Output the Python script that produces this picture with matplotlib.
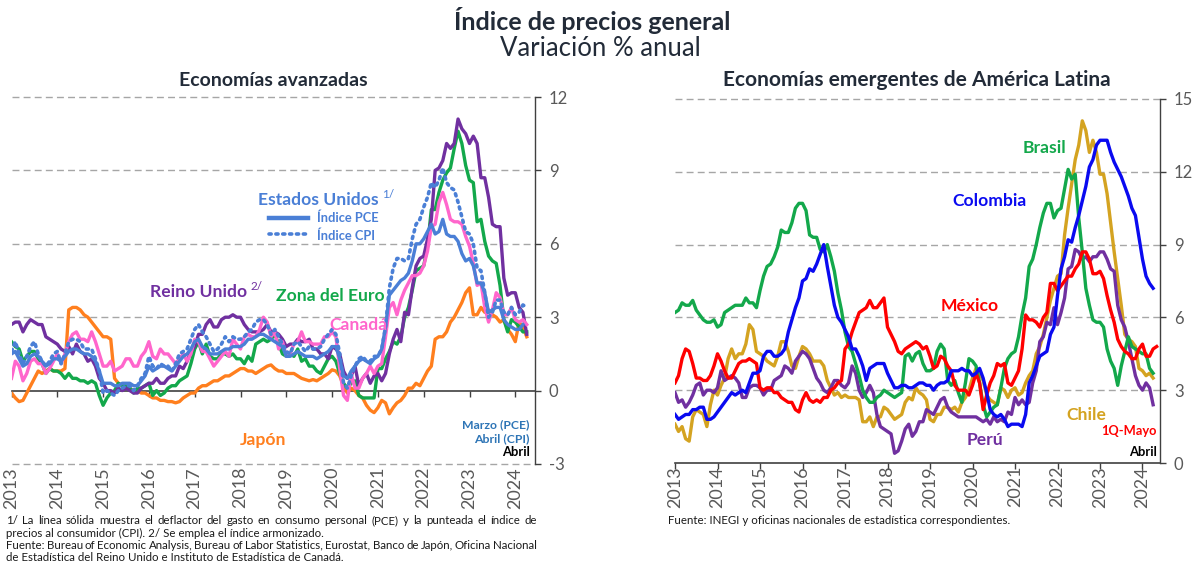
import numpy as np
import matplotlib
matplotlib.use("Agg")
import matplotlib.pyplot as plt
from matplotlib.transforms import blended_transform_factory

plt.rcParams['font.family'] = ['Lato', 'DejaVu Sans']

# ---------------- Data: monthly annual % change, Jan-2013 onward ----------------
years = list(range(2013, 2025))
year_labels = [str(y) for y in years]

# Advanced economies
reino_unido = [2.7, 2.8, 2.8, 2.4, 2.7, 2.9, 2.8, 2.7, 2.7, 2.2, 2.1, 2.0,
               1.9, 1.7, 1.6, 1.8, 1.5, 1.9, 1.6, 1.5, 1.2, 1.3, 1.0, 0.5,
               0.3, 0.0, 0.0, -0.1, 0.1, 0.0, 0.1, 0.0, -0.1, -0.1, 0.1, 0.2,
               0.3, 0.3, 0.5, 0.3, 0.3, 0.5, 0.6, 0.6, 1.0, 0.9, 1.2, 1.6,
               1.8, 2.3, 2.3, 2.7, 2.9, 2.6, 2.6, 2.9, 3.0, 3.0, 3.1, 3.0,
               3.0, 2.7, 2.5, 2.4, 2.4, 2.4, 2.5, 2.7, 2.4, 2.4, 2.3, 2.1,
               1.8, 1.9, 1.9, 2.1, 2.0, 2.0, 2.1, 1.7, 1.7, 1.5, 1.5, 1.3,
               1.8, 1.7, 1.5, 0.8, 0.5, 0.6, 1.0, 0.2, 0.5, 0.7, 0.3, 0.6,
               0.7, 0.4, 0.7, 1.5, 2.1, 2.5, 2.0, 3.2, 3.1, 4.2, 5.1, 5.4,
               5.5, 6.2, 7.0, 9.0, 9.1, 9.4, 10.1, 9.9, 10.1, 11.1, 10.7, 10.5,
               10.1, 10.4, 10.1, 8.7, 8.7, 7.9, 6.8, 6.7, 6.7, 4.6, 3.9, 4.0,
               4.0, 3.4, 3.2, 2.3]

zona_euro = [2.0, 1.8, 1.7, 1.2, 1.4, 1.6, 1.6, 1.3, 1.1, 0.7, 0.9, 0.8,
             0.8, 0.7, 0.5, 0.7, 0.5, 0.5, 0.4, 0.4, 0.3, 0.4, 0.3, -0.2,
             -0.6, -0.3, -0.1, 0.0, 0.3, 0.2, 0.2, 0.1, -0.1, 0.1, 0.1, 0.2,
             0.3, -0.2, 0.0, -0.2, -0.1, 0.1, 0.2, 0.2, 0.4, 0.5, 0.6, 1.1,
             1.7, 2.0, 1.5, 1.9, 1.4, 1.3, 1.3, 1.5, 1.5, 1.4, 1.5, 1.3,
             1.3, 1.1, 1.4, 1.2, 1.9, 2.0, 2.1, 2.0, 2.1, 2.3, 1.9, 1.5,
             1.4, 1.5, 1.4, 1.7, 1.2, 1.3, 1.0, 1.0, 0.8, 0.7, 1.0, 1.3,
             1.4, 1.2, 0.7, 0.3, 0.1, 0.3, 0.4, -0.2, -0.3, -0.3, -0.3, -0.3,
             0.9, 0.9, 1.3, 1.6, 2.0, 1.9, 2.2, 3.0, 3.4, 4.1, 4.9, 5.0,
             5.1, 5.9, 7.4, 7.4, 8.1, 8.6, 8.9, 9.1, 9.9, 10.6, 10.1, 9.2,
             8.6, 8.5, 6.9, 7.0, 6.1, 5.5, 5.3, 5.2, 4.3, 2.9, 2.4, 2.9,
             2.8, 2.6, 2.4, 2.4]

canada = [0.5, 1.2, 1.0, 0.4, 0.7, 1.2, 1.3, 1.1, 1.1, 0.7, 0.9, 1.2,
          1.5, 1.1, 1.5, 2.0, 2.3, 2.4, 2.1, 2.1, 2.0, 2.4, 2.0, 1.5,
          1.0, 1.0, 1.2, 0.8, 0.9, 1.0, 1.3, 1.3, 1.0, 1.0, 1.4, 1.6,
          2.0, 1.4, 1.3, 1.7, 1.5, 1.5, 1.3, 1.1, 1.3, 1.5, 1.2, 1.5,
          2.1, 2.0, 1.6, 1.6, 1.3, 1.0, 1.2, 1.4, 1.6, 1.4, 2.1, 1.9,
          1.7, 2.2, 2.3, 2.2, 2.2, 2.5, 3.0, 2.8, 2.2, 2.4, 1.7, 2.0,
          1.4, 1.5, 1.9, 2.0, 2.4, 2.0, 2.0, 1.9, 1.9, 1.9, 2.2, 2.2,
          2.4, 2.2, 0.9, -0.2, -0.4, 0.7, 0.1, 0.1, 0.5, 0.7, 1.0, 0.7,
          1.0, 1.1, 2.2, 3.4, 3.6, 3.1, 3.7, 4.1, 4.4, 4.7, 4.7, 4.8,
          5.1, 5.7, 6.7, 6.8, 7.7, 8.1, 7.6, 7.0, 6.9, 6.9, 6.8, 6.3,
          5.9, 5.2, 4.3, 4.4, 3.4, 2.8, 3.3, 4.0, 3.8, 3.1, 3.1, 3.4,
          2.9, 2.8, 2.9, 2.7]

eeuu_pce = [1.5, 1.6, 1.3, 1.0, 1.1, 1.4, 1.5, 1.4, 1.2, 1.0, 1.1, 1.3,
            1.3, 1.2, 1.4, 1.6, 1.7, 1.7, 1.6, 1.5, 1.5, 1.4, 1.2, 0.8,
            0.3, 0.3, 0.3, 0.2, 0.2, 0.3, 0.3, 0.3, 0.2, 0.2, 0.4, 0.6,
            1.0, 0.8, 0.9, 1.0, 1.0, 0.9, 0.8, 1.0, 1.2, 1.4, 1.5, 1.7,
            2.0, 2.1, 1.8, 1.7, 1.5, 1.5, 1.5, 1.6, 1.7, 1.7, 1.8, 1.8,
            1.8, 1.9, 2.1, 2.1, 2.2, 2.3, 2.3, 2.2, 2.1, 2.0, 1.9, 1.8,
            1.4, 1.4, 1.5, 1.6, 1.5, 1.4, 1.4, 1.4, 1.3, 1.4, 1.5, 1.6,
            1.8, 1.8, 1.3, 0.6, 0.5, 0.8, 1.0, 1.2, 1.3, 1.2, 1.1, 1.3,
            1.4, 1.7, 2.6, 3.9, 4.1, 4.3, 4.5, 4.6, 4.8, 5.3, 6.0, 6.0,
            6.2, 6.5, 6.8, 6.4, 6.5, 7.0, 6.4, 6.3, 6.3, 6.1, 5.6, 5.3,
            5.4, 5.1, 4.4, 4.4, 4.0, 3.2, 3.3, 3.4, 3.4, 2.9, 2.7, 2.6,
            2.5, 2.5, 2.7]

eeuu_cpi = [1.6, 2.0, 1.5, 1.1, 1.4, 1.8, 2.0, 1.5, 1.2, 1.0, 1.2, 1.5,
            1.6, 1.1, 1.5, 2.0, 2.1, 2.1, 2.0, 1.7, 1.7, 1.7, 1.3, 0.8,
            -0.1, 0.0, -0.1, -0.2, 0.0, 0.1, 0.2, 0.2, 0.0, 0.2, 0.5, 0.7,
            1.4, 1.0, 0.9, 1.1, 1.0, 1.0, 0.8, 1.1, 1.5, 1.6, 1.7, 2.1,
            2.5, 2.7, 2.4, 2.2, 1.9, 1.6, 1.7, 1.9, 2.2, 2.0, 2.2, 2.1,
            2.1, 2.2, 2.4, 2.5, 2.8, 2.9, 2.9, 2.7, 2.3, 2.5, 2.2, 1.9,
            1.6, 1.5, 1.9, 2.0, 1.8, 1.6, 1.8, 1.7, 1.7, 1.8, 2.1, 2.3,
            2.5, 2.3, 1.5, 0.3, 0.1, 0.6, 1.0, 1.3, 1.4, 1.2, 1.2, 1.4,
            1.4, 1.7, 2.6, 4.2, 5.0, 5.4, 5.4, 5.3, 5.4, 6.2, 6.8, 7.0,
            7.5, 7.9, 8.5, 8.3, 8.6, 9.1, 8.5, 8.3, 8.2, 7.7, 7.1, 6.5,
            6.4, 6.0, 5.0, 4.9, 4.0, 3.0, 3.2, 3.7, 3.7, 3.2, 3.1, 3.4,
            3.1, 3.2, 3.5, 3.4]

japon = [-0.1, -0.3, -0.45, -0.4, -0.1, 0.2, 0.5, 0.8, 0.7, 0.8, 0.9, 0.8,
         0.8, 0.8, 0.9, 3.3, 3.4, 3.4, 3.3, 3.1, 3.0, 2.8, 2.6, 2.4,
         2.2, 2.2, 2.1, 0.5, 0.3, 0.2, 0.1, 0.1, 0.0, 0.0, -0.1, -0.1,
         -0.2, -0.3, -0.3, -0.4, -0.4, -0.45, -0.45, -0.5, -0.45, -0.3, -0.2, -0.1,
         -0.1, 0.1, 0.2, 0.2, 0.3, 0.4, 0.4, 0.5, 0.6, 0.6, 0.7, 0.8,
         0.9, 0.9, 0.8, 0.8, 0.7, 0.8, 0.9, 1.0, 1.05, 0.9, 0.8, 0.8,
         0.7, 0.7, 0.7, 0.6, 0.5, 0.45, 0.4, 0.45, 0.4, 0.5, 0.6, 0.7,
         0.85, 0.8, 0.6, 0.2, -0.1, 0.1, 0.0, -0.2, -0.3, -0.6, -0.8, -0.9,
         -0.7, -0.4, -0.5, -0.95, -0.7, -0.5, -0.4, -0.2, 0.1, 0.1, 0.3, 0.2,
         0.5, 0.8, 1.0, 2.1, 2.2, 2.2, 2.4, 2.8, 3.0, 3.3, 3.6, 4.0,
         4.2, 3.1, 3.1, 3.4, 3.2, 3.3, 3.1, 3.0, 2.8, 2.9, 2.5, 2.3,
         2.0, 2.8, 2.6, 2.2]

# Latin American emerging economies
brasil = [6.2, 6.3, 6.6, 6.5, 6.5, 6.7, 6.3, 6.1, 5.9, 5.8, 5.8, 5.9,
          5.6, 5.7, 6.2, 6.3, 6.4, 6.5, 6.5, 6.5, 6.8, 6.6, 6.6, 6.4,
          7.1, 7.7, 8.1, 8.2, 8.5, 8.9, 9.6, 9.5, 9.5, 9.9, 10.5, 10.7,
          10.7, 10.4, 9.4, 9.3, 9.3, 8.8, 8.7, 9.0, 8.5, 7.9, 7.0, 6.3,
          5.4, 4.8, 4.6, 4.1, 3.6, 3.0, 2.7, 2.5, 2.5, 2.7, 2.8, 3.0,
          2.9, 2.8, 2.7, 2.8, 2.9, 4.4, 4.5, 4.2, 4.5, 4.6, 4.1, 3.8,
          3.8, 3.9, 4.6, 4.9, 4.7, 3.4, 3.2, 3.4, 2.9, 2.5, 3.3, 4.3,
          4.2, 4.0, 3.3, 2.4, 1.9, 2.1, 2.3, 2.4, 3.1, 3.9, 4.3, 4.5,
          4.6, 5.2, 6.1, 6.8, 8.1, 8.4, 9.0, 9.7, 10.3, 10.7, 10.7, 10.1,
          10.4, 10.5, 11.3, 12.1, 11.7, 11.9, 10.1, 8.7, 7.2, 6.5, 5.9, 5.8,
          5.8, 5.6, 4.7, 4.2, 3.9, 3.2, 4.0, 4.6, 5.2, 4.8, 4.7, 4.6,
          4.5, 4.5, 3.9, 3.7]

colombia = [2.0, 1.8, 1.9, 2.0, 2.0, 2.2, 2.2, 2.3, 2.3, 1.8, 1.8, 1.9,
            2.1, 2.3, 2.5, 2.7, 2.9, 2.8, 2.9, 3.0, 2.9, 3.3, 3.7, 3.7,
            3.8, 4.4, 4.6, 4.6, 4.4, 4.4, 4.5, 4.7, 5.4, 5.9, 6.4, 6.8,
            7.5, 7.6, 8.0, 7.9, 8.2, 8.6, 9.0, 8.1, 7.3, 6.5, 6.0, 5.8,
            5.5, 5.2, 4.7, 4.7, 4.4, 4.0, 3.4, 3.9, 4.0, 4.1, 4.1, 4.1,
            3.7, 3.4, 3.1, 3.1, 3.2, 3.2, 3.1, 3.1, 3.2, 3.3, 3.3, 3.2,
            3.2, 3.0, 3.2, 3.3, 3.3, 3.4, 3.8, 3.8, 3.8, 3.9, 3.8, 3.8,
            3.6, 3.7, 3.9, 3.5, 2.9, 2.2, 2.0, 1.9, 2.0, 1.8, 1.5, 1.6,
            1.6, 1.6, 1.5, 2.0, 3.3, 3.6, 4.0, 4.4, 4.5, 4.6, 5.3, 5.6,
            6.9, 8.0, 8.5, 9.2, 9.1, 9.7, 10.2, 10.8, 11.4, 12.2, 12.5, 13.1,
            13.3, 13.3, 13.3, 12.8, 12.4, 12.1, 11.8, 11.4, 11.0, 10.5, 10.2, 9.3,
            8.4, 7.7, 7.4, 7.2]

mexico = [3.3, 3.6, 4.3, 4.7, 4.6, 4.1, 3.5, 3.5, 3.4, 3.4, 3.6, 4.0,
          4.5, 4.2, 3.8, 3.5, 3.5, 3.8, 4.1, 4.2, 4.2, 4.3, 4.2, 4.1,
          3.1, 3.0, 3.1, 3.1, 2.9, 2.9, 2.7, 2.6, 2.5, 2.5, 2.2, 2.1,
          2.6, 2.9, 2.6, 2.5, 2.6, 2.5, 2.7, 2.7, 3.0, 3.1, 3.3, 3.4,
          4.7, 4.9, 5.4, 5.8, 6.2, 6.3, 6.4, 6.7, 6.4, 6.4, 6.6, 6.8,
          5.6, 5.3, 5.0, 4.6, 4.5, 4.7, 4.8, 4.9, 5.0, 4.9, 4.7, 4.8,
          4.4, 3.9, 4.0, 4.4, 4.3, 4.0, 3.8, 3.2, 3.0, 3.0, 3.0, 2.8,
          3.2, 3.7, 3.3, 2.2, 2.8, 3.3, 3.6, 4.1, 4.0, 4.1, 3.3, 3.2,
          3.5, 3.8, 4.7, 6.1, 5.9, 5.9, 5.8, 5.6, 6.0, 6.2, 7.4, 7.4,
          7.1, 7.3, 7.5, 7.7, 7.7, 8.0, 8.2, 8.7, 8.7, 8.4, 7.8, 7.8,
          7.9, 7.6, 6.9, 6.3, 5.8, 5.1, 4.8, 4.6, 4.5, 4.3, 4.3, 4.7,
          4.9, 4.4, 4.4, 4.7, 4.8]

chile = [1.6, 1.3, 1.5, 1.0, 0.9, 1.9, 2.2, 2.1, 2.0, 1.5, 2.4, 3.0,
         2.8, 3.2, 3.5, 4.3, 4.7, 4.3, 4.5, 4.5, 4.9, 5.7, 5.5, 4.6,
         4.5, 4.4, 4.2, 4.1, 4.0, 4.4, 5.0, 5.0, 4.6, 4.0, 3.9, 4.4,
         4.8, 4.7, 4.5, 4.2, 4.2, 4.2, 4.0, 3.4, 3.1, 2.8, 2.9, 2.7,
         2.8, 2.7, 2.7, 2.7, 2.6, 1.7, 1.7, 1.9, 1.5, 1.9, 1.9, 2.3,
         2.2, 2.0, 1.8, 1.9, 2.0, 2.5, 2.7, 2.6, 3.1, 2.9, 2.8, 2.6,
         1.8, 1.7, 2.0, 2.0, 2.3, 2.3, 2.2, 2.3, 2.1, 2.5, 2.7, 3.0,
         3.5, 3.9, 3.7, 3.4, 2.8, 2.6, 2.5, 2.4, 3.1, 3.0, 2.7, 3.0,
         3.1, 2.8, 2.9, 3.3, 3.6, 3.8, 4.5, 4.8, 5.3, 6.0, 6.7, 7.2,
         7.7, 7.8, 9.4, 10.5, 11.5, 12.5, 13.1, 14.1, 13.7, 12.8, 13.3, 12.8,
         11.9, 11.9, 11.1, 9.9, 8.7, 7.6, 6.5, 5.3, 5.1, 5.0, 4.8, 3.9,
         3.8, 3.6, 3.7, 3.5]

peru = [2.9, 2.5, 2.6, 2.3, 2.5, 2.8, 3.2, 3.3, 2.8, 3.0, 3.0, 2.9,
        3.1, 3.8, 3.4, 3.5, 3.6, 3.5, 3.3, 2.7, 2.7, 3.1, 3.2, 3.2,
        3.1, 2.8, 3.0, 3.0, 3.4, 3.5, 3.6, 4.0, 3.9, 3.7, 4.2, 4.4,
        4.6, 4.5, 4.3, 3.9, 3.5, 3.3, 3.0, 2.9, 3.1, 3.4, 3.4, 3.2,
        3.1, 3.3, 4.0, 3.7, 3.0, 2.7, 2.9, 3.2, 2.9, 2.0, 1.5, 1.4,
        1.3, 1.2, 0.4, 0.5, 0.9, 1.4, 1.6, 1.1, 1.3, 1.7, 1.7, 2.2,
        2.1, 2.0, 2.3, 2.6, 2.7, 2.3, 2.1, 2.0, 1.9, 1.9, 1.9, 1.9,
        1.9, 1.9, 1.8, 1.7, 1.8, 1.6, 1.9, 1.7, 1.8, 1.7, 2.1, 2.0,
        2.7, 2.4, 2.6, 2.4, 2.5, 3.3, 3.8, 5.0, 5.2, 5.8, 5.7, 6.4,
        5.7, 6.2, 6.8, 8.0, 8.1, 8.8, 8.7, 8.4, 8.5, 8.3, 8.5, 8.5,
        8.7, 8.7, 8.4, 8.0, 7.9, 6.5, 5.9, 5.6, 5.0, 4.3, 3.6, 3.2,
        3.0, 3.3, 3.1, 2.4]


def months(series):
    return 2013 + np.arange(len(series)) / 12.0


W, H = 1200, 564
fig = plt.figure(figsize=(W / 100, H / 100), dpi=100)
fig.patch.set_facecolor('white')
renderer = fig.canvas.get_renderer()

GRID = '#A6A6A6'
SPINE = '#404040'
TICKC = '#595959'
TITLEC = '#222B38'
C_US = '#4A7FD6'


def figtext(x, y, s, **kw):
    return fig.text(x / W, 1 - y / H, s, **kw)


def sup_after(t, s, dy, color, fs=8.5, gap=3):
    bb = t.get_window_extent(renderer)
    return fig.text((bb.x1 + gap) / W, (bb.y0 + bb.height / 2) / H + dy / H, s,
                    ha='left', va='center', fontsize=fs, color=color)


# ---------------- Titles ----------------
figtext(592, 20, 'Índice de precios general', ha='center', va='center',
        fontsize=18, fontweight='bold', color=TITLEC)
figtext(600, 48, 'Variación % anual', ha='center', va='center',
        fontsize=18.5, fontweight='normal', color=TITLEC)
figtext(273, 80, 'Economías avanzadas', ha='center', va='center',
        fontsize=14, fontweight='bold', color=TITLEC)
figtext(917, 80, 'Economías emergentes de América Latina', ha='center', va='center',
        fontsize=15, fontweight='bold', color=TITLEC)


def style_axes(ax, yticks, zero_at):
    for s in ['left', 'top']:
        ax.spines[s].set_visible(False)
    ax.spines['right'].set_color(SPINE)
    ax.spines['right'].set_linewidth(1.0)
    ax.spines['bottom'].set_color(SPINE)
    ax.spines['bottom'].set_linewidth(1.2)
    ax.spines['bottom'].set_position(('data', zero_at))
    ax.yaxis.tick_right()
    ax.set_yticks(yticks)
    ax.set_yticklabels([str(v) for v in yticks])
    ax.tick_params(axis='y', direction='out', length=4, width=1, color=SPINE,
                   labelcolor=TICKC, labelsize=12, pad=6)
    ax.set_xticks(years)
    ax.tick_params(axis='x', direction='out', length=4, width=1, color=SPINE,
                   labelbottom=False)
    for v in yticks:
        if v != zero_at:
            ax.axhline(v, color=GRID, lw=1.0, ls=(0, (5, 3)), zorder=1, clip_on=False)
    ax.patch.set_alpha(0)


def year_labels_at(ax, y_axes):
    tr = blended_transform_factory(ax.transData, ax.transAxes)
    for yr, lab in zip(years, year_labels):
        ax.text(yr, y_axes, lab, transform=tr, rotation=90, ha='center', va='top',
                fontsize=13, color=TICKC)


# ---------------- Left panel ----------------
axL = fig.add_axes([11.5 / W, 1 - 464 / H, 523.5 / W, 367 / H])
axL.set_xlim(2013, 2013 + 523.5 / 45.8)
axL.set_ylim(-3, 12)
style_axes(axL, [-3, 0, 3, 6, 9, 12], 0)
year_labels_at(axL, -0.008)

lw = 2.4
axL.plot(months(japon), japon, color='#FF7F1E', lw=lw, zorder=3, solid_joinstyle='round')
axL.plot(months(zona_euro), zona_euro, color='#13A84B', lw=lw, zorder=3, solid_joinstyle='round')
axL.plot(months(reino_unido), reino_unido, color='#7030A0', lw=lw, zorder=3, solid_joinstyle='round')
axL.plot(months(canada), canada, color='#FF66CC', lw=lw, zorder=3, solid_joinstyle='round')
axL.plot(months(eeuu_cpi), eeuu_cpi, color=C_US, lw=2.6, ls=(0, (0.6, 1.3)),
         dash_capstyle='round', zorder=4)
axL.plot(months(eeuu_pce), eeuu_pce, color=C_US, lw=lw, zorder=4, solid_joinstyle='round')

LBL = 12.6
t_us = figtext(258, 200, 'Estados Unidos', ha='left', va='center', fontsize=LBL,
               fontweight='bold', color=C_US)
sup_after(t_us, '1/', 6, C_US)
fig.add_artist(plt.Line2D([269 / W, 308 / W], [1 - 218 / H, 1 - 218 / H], color=C_US, lw=3.2))
fig.add_artist(plt.Line2D([269 / W, 308 / W], [1 - 234 / H, 1 - 234 / H], color=C_US, lw=2.6,
                          ls=(0, (0.6, 1.3)), dash_capstyle='round'))
figtext(317, 218, 'Índice PCE', ha='left', va='center', fontsize=9.3, fontweight='bold', color=C_US)
figtext(317, 236, 'Índice CPI', ha='left', va='center', fontsize=9.3, fontweight='bold', color=C_US)

t_uk = figtext(150, 292, 'Reino Unido', ha='left', va='center', fontsize=LBL, fontweight='bold',
               color='#7030A0')
sup_after(t_uk, '2/', 6, '#7030A0')
figtext(276, 296, 'Zona del Euro', ha='left', va='center', fontsize=LBL, fontweight='bold', color='#13A84B')
figtext(329, 325, 'Canadá', ha='left', va='center', fontsize=LBL, fontweight='bold', color='#FF66CC')
figtext(240, 440, 'Japón', ha='left', va='center', fontsize=LBL, fontweight='bold', color='#FF7F1E')

figtext(530, 425, 'Marzo (PCE)', ha='right', va='center', fontsize=8.8, fontweight='bold', color='#2E75B6')
figtext(530, 439, 'Abril (CPI)', ha='right', va='center', fontsize=8.8, fontweight='bold', color='#2E75B6')
figtext(530, 452, 'Abril', ha='right', va='center', fontsize=9.4, fontweight='bold', color='black')

# ---------------- Right panel ----------------
axR = fig.add_axes([675 / W, 1 - 463 / H, 485 / W, 364 / H])
axR.set_xlim(2013, 2013 + 485 / 42.5)
axR.set_ylim(0, 15)
style_axes(axR, [0, 3, 6, 9, 12, 15], 0)
year_labels_at(axR, -0.008)

axR.plot(months(chile), chile, color='#D4A321', lw=lw, zorder=3, solid_joinstyle='round')
axR.plot(months(peru), peru, color='#7030A0', lw=lw, zorder=3, solid_joinstyle='round')
axR.plot(months(brasil), brasil, color='#13A84B', lw=lw, zorder=3, solid_joinstyle='round')
axR.plot(months(mexico), mexico, color='#FF0000', lw=lw, zorder=3, solid_joinstyle='round')
axR.plot(months(colombia), colombia, color='#0A0AF0', lw=lw, zorder=4, solid_joinstyle='round')

figtext(1023, 148, 'Brasil', ha='left', va='center', fontsize=LBL, fontweight='bold', color='#13A84B')
figtext(952, 201, 'Colombia', ha='left', va='center', fontsize=LBL, fontweight='bold', color='#0A0AF0')
figtext(941, 306, 'México', ha='left', va='center', fontsize=LBL, fontweight='bold', color='#FF0000')
figtext(1066, 415, 'Chile', ha='left', va='center', fontsize=LBL, fontweight='bold', color='#D4A321')
figtext(967, 440, 'Perú', ha='left', va='center', fontsize=LBL, fontweight='bold', color='#7030A0')
figtext(1157, 431, '1Q-Mayo', ha='right', va='center', fontsize=9.3, fontweight='bold', color='#FF0000')
figtext(1157, 452, 'Abril', ha='right', va='center', fontsize=9.4, fontweight='bold', color='black')

# ---------------- Footnotes ----------------
notes_left = [
    '1/ La línea sólida muestra el deflactor del gasto en consumo personal (PCE) y la punteada el índice de',
    'precios al consumidor (CPI). 2/ Se emplea el índice armonizado.',
    'Fuente: Bureau of Economic Analysis, Bureau of Labor Statistics, Eurostat, Banco de Japón, Oficina Nacional',
    'de Estadística del Reino Unido e Instituto de Estadística de Canadá.',
]
justify = [True, False, True, False]
FN = 8.3
for i, (line, just) in enumerate(zip(notes_left, justify)):
    y = 521 + 12.2 * i
    if not just:
        figtext(6, y, line, ha='left', va='center', fontsize=FN, color='#1A1A1A')
        continue
    words = line.split(' ')
    objs = [figtext(0, y, w, ha='left', va='center', fontsize=FN, color='#1A1A1A') for w in words]
    widths = [o.get_window_extent(renderer).width for o in objs]
    gap = (537 - 6 - sum(widths)) / (len(words) - 1)
    x = 6.0
    for o, wdt in zip(objs, widths):
        o.set_position((x / W, 1 - y / H))
        x += wdt + gap

figtext(668, 520, 'Fuente: INEGI y oficinas nacionales de estadística correspondientes.',
        ha='left', va='center', fontsize=8.3, color='#1A1A1A')

fig.savefig('out.png', dpi=100, facecolor='white')
